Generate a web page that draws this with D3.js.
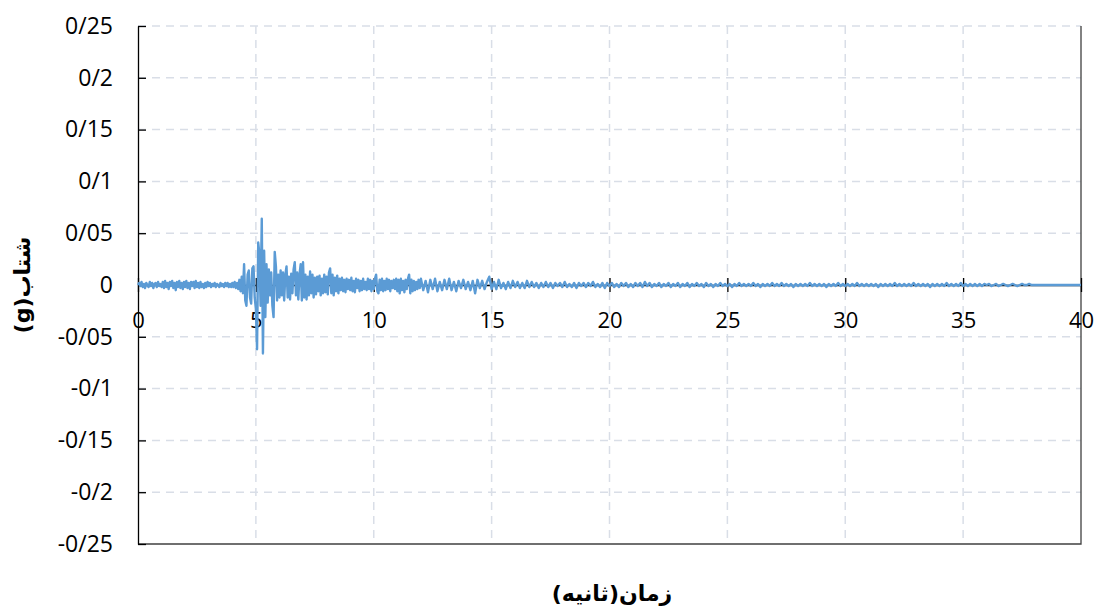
<!DOCTYPE html>
<html>
<head>
<meta charset="utf-8">
<script src="https://cdn.jsdelivr.net/npm/d3@7"></script>
<style>
  body { margin: 0; background: #fff; }
  .axis-title { font-family: 'DejaVu Sans', sans-serif; font-weight: bold; font-size: 22px; fill: #000; }
</style>
</head>
<body>
<div id="chart"></div>
<script>
// tick values and their labels (slash is the decimal separator in the original)
const xTicks = [0, 5, 10, 15, 20, 25, 30, 35, 40];
const yTicks = [0.25, 0.2, 0.15, 0.1, 0.05, 0, -0.05, -0.1, -0.15, -0.2, -0.25];
const yTickLabels = ['0/25', '0/2', '0/15', '0/1', '0/05', '0', '-0/05', '-0/1', '-0/15', '-0/2', '-0/25'];

const xTitle = 'زمان(ثانیه)';
const yTitle = 'شتاب(g)';

// acceleration record (g), 0 - 11.95 s every 0.05 s
const dtStrong = 0.05;
const accStrong = [
  0.000, 0.002, -0.001, 0.003, -0.002, 0.001, -0.003, 0.002, 0.000, -0.002, 0.003, -0.001, 0.002, -0.003, 0.001, 0.002, -0.002, 0.003, -0.001, 0.001,
  -0.002, 0.003, -0.003, 0.004, -0.002, 0.002, -0.004, 0.003, -0.001, 0.004, -0.003, 0.002, -0.005, 0.003, -0.002, 0.004, -0.003, 0.002, -0.004, 0.003,
  -0.002, 0.004, -0.003, 0.002, -0.004, 0.003, -0.001, 0.003, -0.003, 0.004, -0.002, 0.002, -0.003, 0.003, -0.002, 0.001, -0.003, 0.002, -0.002, 0.003,
  -0.001, 0.002, -0.002, 0.001, -0.001, 0.002, -0.002, 0.001, 0.000, -0.002, 0.002, -0.001, 0.001, -0.002, 0.002, -0.001, 0.002, -0.002, 0.001, -0.002,
  0.002, -0.002, 0.003, -0.003, 0.002, -0.004, 0.005, -0.006, 0.008, -0.008, 0.020, -0.015, -0.020, 0.010, 0.014, -0.012, -0.018, 0.016, 0.018, -0.012,
  -0.023, -0.062, 0.041, 0.030, -0.020, 0.064, -0.066, 0.033, -0.031, 0.020, -0.017, 0.015, -0.010, 0.012, -0.020, -0.031, 0.032, 0.018, -0.015, 0.010,
  -0.012, 0.014, -0.010, 0.012, -0.015, 0.010, 0.018, -0.012, 0.008, -0.014, 0.011, -0.008, 0.015, 0.022, -0.010, 0.012, -0.014, 0.010, 0.020, -0.015,
  0.022, -0.012, 0.010, -0.014, 0.008, -0.010, 0.013, -0.008, 0.010, -0.012, 0.007, -0.009, 0.008, -0.006, 0.009, -0.010, 0.006, -0.008, 0.010, -0.007,
  0.008, -0.009, 0.012, 0.016, -0.008, 0.010, -0.010, 0.007, -0.006, 0.009, -0.008, 0.006, -0.005, 0.007, -0.006, 0.005, -0.007, 0.006, -0.004, 0.005,
  -0.005, 0.007, -0.006, 0.004, -0.007, 0.006, -0.003, 0.005, -0.006, 0.004, -0.005, 0.006, -0.004, 0.003, -0.005, 0.006, -0.004, 0.005, -0.006, 0.004,
  -0.004, 0.006, 0.010, -0.006, -0.008, 0.005, -0.005, 0.006, -0.006, 0.004, -0.005, 0.006, -0.004, 0.005, -0.006, 0.004, -0.003, 0.005, -0.004, 0.006,
  -0.006, 0.005, -0.008, 0.006, -0.005, 0.004, -0.007, 0.005, -0.004, 0.006, 0.010, -0.008, 0.005, -0.006, 0.004, -0.005, 0.003, -0.004, 0.005, -0.003,
];

// acceleration record (g), 12 - 40 s every 0.1 s
const tailStart = 12;
const dtTail = 0.1;
const accTail = [
  0.006, -0.005, 0.004, -0.007, 0.005, -0.004, 0.006, -0.006, 0.003, -0.005,
  0.005, -0.004, 0.006, -0.005, 0.003, -0.006, 0.004, -0.003, 0.005, -0.004,
  0.003, -0.005, 0.004, -0.008, 0.005, -0.003, 0.004, -0.004, 0.003, 0.008,
  -0.004, 0.003, -0.004, 0.005, -0.003, 0.002, -0.004, 0.003, -0.003, 0.004,
  -0.002, 0.003, -0.003, 0.002, -0.003, 0.004, -0.002, 0.003, -0.002, 0.002,
  -0.003, 0.002, -0.002, 0.003, -0.002, 0.002, -0.003, 0.002, -0.001, 0.002,
  -0.002, 0.003, -0.002, 0.001, -0.002, 0.002, -0.003, 0.002, -0.001, 0.002,
  -0.002, 0.002, -0.001, 0.003, -0.002, 0.001, -0.002, 0.002, -0.003, 0.002,
  -0.001, 0.002, -0.002, 0.001, -0.002, 0.002, -0.001, 0.002, -0.002, 0.001,
  -0.002, 0.002, -0.001, 0.002, -0.002, 0.003, -0.001, 0.002, -0.002, 0.001,
  -0.001, 0.002, -0.002, 0.001, -0.001, 0.002, -0.002, 0.001, -0.001, 0.002,
  -0.002, 0.001, -0.001, 0.002, -0.002, 0.001, -0.001, 0.002, -0.001, 0.001,
  -0.002, 0.002, -0.001, 0.001, -0.002, 0.001, -0.001, 0.002, -0.001, 0.001,
  -0.001, 0.001, -0.002, 0.001, -0.001, 0.002, -0.001, 0.001, -0.001, 0.001,
  -0.001, 0.002, -0.001, 0.001, -0.002, 0.001, -0.001, 0.001, -0.001, 0.002,
  -0.001, 0.001, -0.001, 0.002, -0.001, 0.001, -0.001, 0.001, -0.002, 0.001,
  -0.001, 0.001, -0.001, 0.001, -0.001, 0.002, -0.001, 0.001, -0.001, 0.001,
  -0.001, 0.001, -0.002, 0.001, -0.001, 0.001, -0.001, 0.002, -0.001, 0.001,
  -0.001, 0.001, -0.001, 0.001, -0.001, 0.002, -0.001, 0.001, -0.001, 0.001,
  -0.001, 0.001, -0.001, 0.001, -0.002, 0.001, -0.001, 0.001, -0.001, 0.001,
  -0.001, 0.002, -0.001, 0.001, -0.001, 0.001, -0.001, 0.001, -0.001, 0.002,
  -0.001, 0.001, -0.001, 0.001, -0.001, 0.001, -0.002, 0.001, -0.001, 0.001,
  -0.001, 0.001, -0.001, 0.002, -0.001, 0.001, -0.001, 0.001, -0.001, 0.002,
  -0.001, 0.001, -0.001, 0.001, -0.001, 0.001, -0.001, 0.001, -0.001, 0.001,
  0.000, 0.001, -0.001, 0.000, 0.001, -0.001, 0.000, 0.001, 0.000, -0.001,
  0.000, 0.001, 0.000, -0.001, 0.000, 0.001, 0.000, 0.000, 0.001, 0.000,
  0.000, 0.000, 0.000, 0.000, 0.000, 0.000, 0.000, 0.000, 0.000, 0.000,
  0.000, 0.000, 0.000, 0.000, 0.000, 0.000, 0.000, 0.000, 0.000, 0.000,
  0.000,
];

const width = 1098;
const height = 607;
const margin = { top: 26, right: 17, bottom: 63, left: 138 };
const gridColor = '#d9dee7';
const lineColor = '#5b9bd5';

const points = accStrong.map((a, i) => ({ t: i * dtStrong, a }))
  .concat(accTail.map((a, i) => ({ t: tailStart + i * dtTail, a })));

const svg = d3.select('#chart')
  .append('svg')
  .attr('width', width)
  .attr('height', height);

const x = d3.scaleLinear()
  .domain([0, 40])
  .range([margin.left, width - margin.right]);

const y = d3.scaleLinear()
  .domain([-0.25, 0.25])
  .range([height - margin.bottom, margin.top]);

// dashed gridlines
svg.append('g')
  .selectAll('line')
  .data(yTicks.filter((d) => d !== -0.25))
  .join('line')
  .attr('x1', x(0))
  .attr('x2', x(40))
  .attr('y1', (d) => y(d))
  .attr('y2', (d) => y(d))
  .attr('stroke', gridColor)
  .attr('stroke-width', 1.5)
  .attr('stroke-dasharray', '8,6');

svg.append('g')
  .selectAll('line')
  .data(xTicks.filter((d) => d > 0 && d < 40))
  .join('line')
  .attr('x1', (d) => x(d))
  .attr('x2', (d) => x(d))
  .attr('y1', y(0.25))
  .attr('y2', y(-0.25))
  .attr('stroke', gridColor)
  .attr('stroke-width', 1.5)
  .attr('stroke-dasharray', '8,6');

// right and bottom edge of the plot area
svg.append('path')
  .attr('d', `M${x(40)},${y(0.25)}V${y(-0.25)}H${x(0)}`)
  .attr('fill', 'none')
  .attr('stroke', '#404040')
  .attr('stroke-width', 1.3);

// y axis, ticks pointing inside
const yAxis = svg.append('g')
  .attr('transform', `translate(${x(0)},0)`)
  .call(d3.axisLeft(y)
    .tickValues(yTicks)
    .tickFormat((d, i) => yTickLabels[i])
    .tickSizeInner(-8)
    .tickSizeOuter(0)
    .tickPadding(25));

yAxis.select('.domain').attr('stroke', '#000').attr('stroke-width', 1.3);
yAxis.selectAll('.tick line').attr('stroke', '#000').attr('stroke-width', 1.3);
yAxis.selectAll('.tick text')
  .attr('font-family', "'Open Sans', sans-serif")
  .attr('font-size', 23)
  .attr('fill', '#000');

// x axis through zero, cross ticks
const xAxis = svg.append('g')
  .attr('transform', `translate(0,${y(0)})`)
  .call(d3.axisBottom(x)
    .tickValues(xTicks)
    .tickSizeInner(0)
    .tickSizeOuter(0)
    .tickPadding(27));

xAxis.select('.domain').attr('stroke', '#000').attr('stroke-width', 1.3);
xAxis.selectAll('.tick line')
  .attr('y1', -7)
  .attr('y2', 7)
  .attr('stroke', '#000')
  .attr('stroke-width', 1.3);
xAxis.selectAll('.tick text')
  .attr('font-family', "'Open Sans', sans-serif")
  .attr('font-size', 22)
  .attr('fill', '#000');

// the record
const line = d3.line()
  .x((d) => x(d.t))
  .y((d) => y(d.a));

svg.append('path')
  .datum(points)
  .attr('d', line)
  .attr('fill', 'none')
  .attr('stroke', lineColor)
  .attr('stroke-width', 2.4)
  .attr('stroke-linejoin', 'round');

// axis titles
svg.append('text')
  .attr('class', 'axis-title')
  .attr('x', 612)
  .attr('y', 601)
  .attr('text-anchor', 'middle')
  .attr('direction', 'rtl')
  .text(xTitle);

svg.append('text')
  .attr('class', 'axis-title')
  .attr('transform', `translate(30,${y(0)}) rotate(-90)`)
  .attr('text-anchor', 'middle')
  .attr('direction', 'rtl')
  .text(yTitle);
</script>
</body>
</html>
